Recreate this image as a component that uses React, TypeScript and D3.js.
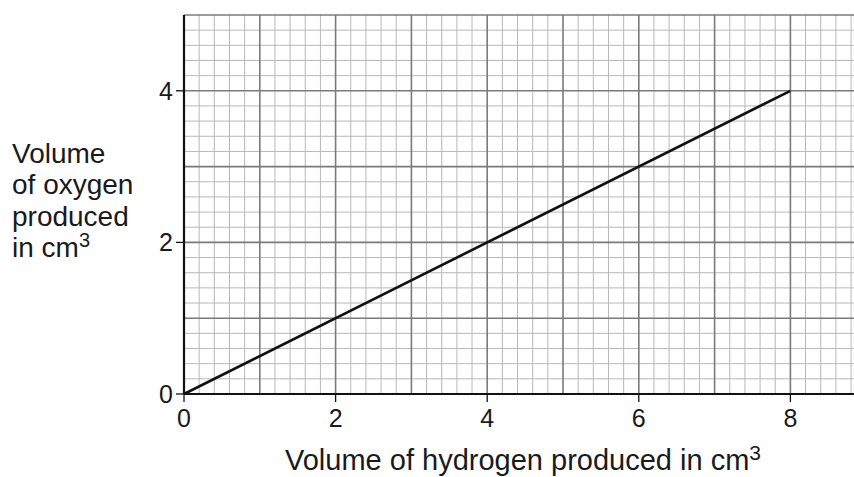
import React from "react";
import * as d3 from "d3";

// data
const hydrogenVolume = [0, 8];
const oxygenVolume = [0, 4];
const xTickValues = [0, 2, 4, 6, 8];
const yTickValues = [0, 2, 4];
const yLabelLines = ["Volume", "of oxygen", "produced", "in cm"];
const xLabel = "Volume of hydrogen produced in cm";

const App = () => {
  const width = 854;
  const height = 477;
  const margin = { top: 15, right: 0, bottom: 83, left: 184 };
  const font = "'Liberation Sans', Arial, sans-serif";

  const unit = (394 - 15) / 5;
  const xMax = (width - margin.left) / unit;

  const xScale = d3
    .scaleLinear()
    .domain([0, xMax])
    .range([margin.left, width]);

  const yScale = d3
    .scaleLinear()
    .domain([0, 5])
    .range([height - margin.bottom, margin.top]);

  // grid every 0.2, heavier every 1
  const minorX = d3.range(0, Math.floor(xMax * 5) + 1).map((i) => i / 5);
  const minorY = d3.range(0, 26).map((i) => i / 5);

  const line = d3
    .line<number>()
    .x((d, i) => xScale(hydrogenVolume[i]))
    .y((d) => yScale(d));

  const x0 = xScale(0);
  const y0 = yScale(0);

  return (
    <svg
      width={width}
      height={height}
      style={{ position: "absolute", left: 0, top: 0, background: "#fff" }}
      fontFamily={font}
    >
      {/* minor grid */}
      <g stroke="#b8b8b8" strokeWidth={1}>
        {minorX.map((v, i) =>
          i % 5 === 0 ? null : (
            <line key={"mx" + i} x1={xScale(v)} x2={xScale(v)} y1={yScale(5)} y2={y0} />
          )
        )}
        {minorY.map((v, i) =>
          i % 5 === 0 ? null : (
            <line key={"my" + i} x1={x0} x2={width} y1={yScale(v)} y2={yScale(v)} />
          )
        )}
      </g>
      {/* major grid */}
      <g stroke="#7a7a7a" strokeWidth={1.6}>
        {minorX.map((v, i) =>
          i % 5 === 0 && i > 0 ? (
            <line key={"Mx" + i} x1={xScale(v)} x2={xScale(v)} y1={yScale(5)} y2={y0} />
          ) : null
        )}
        {minorY.map((v, i) =>
          i % 5 === 0 && i > 0 ? (
            <line key={"My" + i} x1={x0} x2={width} y1={yScale(v)} y2={yScale(v)} />
          ) : null
        )}
      </g>

      {/* axes */}
      <g stroke="#111" strokeWidth={2.2}>
        <line x1={x0} x2={x0} y1={yScale(5)} y2={y0} />
        <line x1={x0} x2={width} y1={y0} y2={y0} />
      </g>
      <g stroke="#111" strokeWidth={1.3}>
        {yTickValues.map((v) => (
          <line key={"yt" + v} x1={x0 - 8} x2={x0} y1={yScale(v)} y2={yScale(v)} />
        ))}
        {xTickValues.map((v) => (
          <line key={"xt" + v} x1={xScale(v)} x2={xScale(v)} y1={y0} y2={y0 + 8} />
        ))}
      </g>
      <g fontSize={25} fill="#1a1a1a">
        {yTickValues.map((v) => (
          <text key={"yl" + v} x={x0 - 11} y={yScale(v)} dy="0.36em" textAnchor="end">
            {v}
          </text>
        ))}
        {xTickValues.map((v) => (
          <text key={"xl" + v} x={xScale(v)} y={427} textAnchor="middle">
            {v}
          </text>
        ))}
      </g>

      {/* data line */}
      <path
        d={line(oxygenVolume) || ""}
        fill="none"
        stroke="#111"
        strokeWidth={2.6}
      />

      {/* axis labels */}
      <g fill="#1a1a1a">
        {yLabelLines.map((t, i) => (
          <text key={"ylab" + i} x={12} y={163 + i * 31.3} fontSize={28}>
            {t}
            {i === yLabelLines.length - 1 ? (
              <tspan fontSize={20} dy={-10}>
                3
              </tspan>
            ) : null}
          </text>
        ))}
        <text x={285} y={470} fontSize={29}>
          {xLabel}
          <tspan fontSize={21} dy={-10}>
            3
          </tspan>
        </text>
      </g>
    </svg>
  );
};

export default App;
